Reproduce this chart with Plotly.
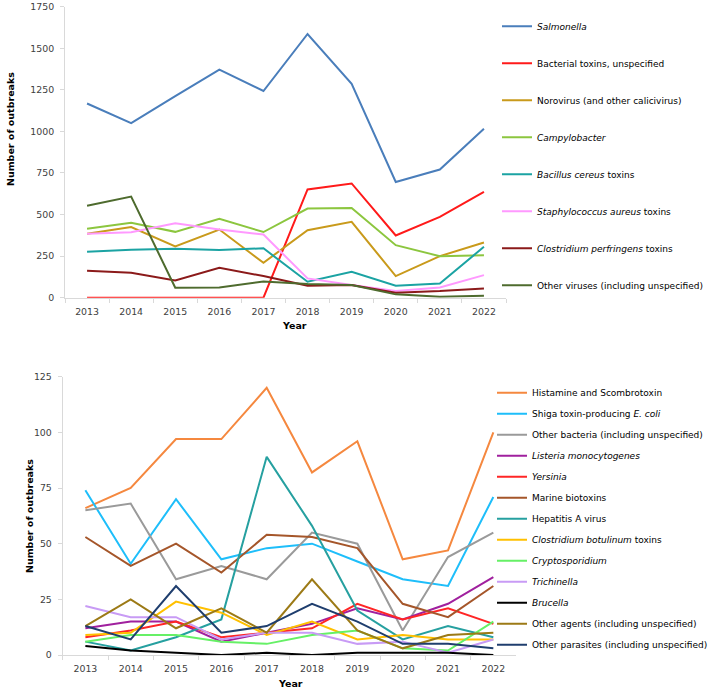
import plotly.graph_objects as go

years = ["2013", "2014", "2015", "2016", "2017", "2018", "2019", "2020", "2021", "2022"]

# ---- Top panel series ----
top_names = [
    "<i>Salmonella</i>",
    "Bacterial toxins, unspecified",
    "Norovirus (and other calicivirus)",
    "<i>Campylobacter</i>",
    "<i>Bacillus cereus</i> toxins",
    "<i>Staphylococcus aureus</i> toxins",
    "<i>Clostridium perfringens</i> toxins",
    "Other viruses (including unspecified)",
]
salmonella = [1168, 1050, 1212, 1372, 1243, 1586, 1286, 696, 771, 1016]
bacterial_toxins = [0, 0, 0, 3, 0, 651, 687, 374, 486, 636]
norovirus = [385, 425, 308, 410, 210, 406, 456, 130, 250, 332]
campylobacter = [414, 450, 396, 474, 395, 536, 540, 316, 250, 256]
bacillus = [277, 289, 294, 287, 297, 96, 156, 72, 86, 306]
staph = [385, 393, 447, 410, 380, 116, 76, 40, 62, 136]
cperfringens = [162, 150, 103, 180, 130, 72, 76, 30, 40, 56]
other_viruses = [553, 608, 60, 62, 97, 82, 76, 20, 6, 12]
top_colors = ["#4A7EBB", "#FF1A1A", "#C99A1B", "#8CC63F", "#1BA3A3",
              "#FF99FF", "#8B1A1A", "#4E6B2E"]

# ---- Bottom panel series ----
bot_names = [
    "Histamine and Scombrotoxin",
    "Shiga toxin-producing <i>E. coli</i>",
    "Other bacteria (including unspecified)",
    "<i>Listeria monocytogenes</i>",
    "<i>Yersinia</i>",
    "Marine biotoxins",
    "Hepatitis A virus",
    "<i>Clostridium botulinum</i> toxins",
    "<i>Cryptosporidium</i>",
    "<i>Trichinella</i>",
    "<i>Brucella</i>",
    "Other agents (including unspecified)",
    "Other parasites (including unspecified)",
]
histamine = [66, 75, 97, 97, 120, 82, 96, 43, 47, 100]
stec = [74, 41, 70, 43, 48, 50, 42, 34, 31, 71]
other_bacteria = [65, 68, 34, 40, 34, 55, 50, 11, 44, 55]
listeria = [12, 15, 15, 6, 10, 14, 21, 16, 23, 35]
yersinia = [8, 11, 15, 8, 10, 12, 23, 16, 21, 14]
marine = [53, 40, 50, 37, 54, 53, 48, 23, 17, 31]
hepatitis_a = [6, 2, 8, 16, 89, 58, 20, 7, 13, 8]
cbotulinum = [9, 10, 24, 19, 9, 15, 7, 9, 7, 7]
cryptosporidium = [6, 9, 9, 6, 5, 9, 11, 3, 2, 15]
trichinella = [22, 17, 17, 7, 10, 10, 5, 6, 1, 7]
brucella = [4, 2, 1, 0, 1, 0, 1, 1, 1, 0]
other_agents = [13, 25, 12, 21, 10, 34, 11, 3, 9, 10]
other_parasites = [13, 7, 31, 10, 13, 23, 15, 5, 5, 3]
bot_colors = ["#F5883F", "#1EBEFA", "#9A9A9A", "#A0209E", "#FF2626",
              "#A5562A", "#26A0A0", "#FFC000", "#66F066", "#C89BF5",
              "#000000", "#9C7A16", "#1F3E6E"]

top_series = [salmonella, bacterial_toxins, norovirus, campylobacter, bacillus,
              staph, cperfringens, other_viruses]
bot_series = [histamine, stec, other_bacteria, listeria, yersinia, marine,
              hepatitis_a, cbotulinum, cryptosporidium, trichinella, brucella,
              other_agents, other_parasites]

FONT = "DejaVu Sans, Verdana, sans-serif"
W, H = 709, 690
AX = "#D9D9D9"
TXT = "#404040"
FS = 9.4
LFS = 9.0

fig = go.Figure()
for i, (name, vals, col) in enumerate(zip(top_names, top_series, top_colors)):
    fig.add_trace(go.Scatter(x=years, y=vals, name=name, mode="lines",
                             line=dict(color=col, width=2),
                             xaxis="x", yaxis="y", legend="legend",
                             legendgroup="t%d" % i))
for i, (name, vals, col) in enumerate(zip(bot_names, bot_series, bot_colors)):
    fig.add_trace(go.Scatter(x=years, y=vals, name=name, mode="lines",
                             line=dict(color=col, width=2),
                             xaxis="x2", yaxis="y2", legend="legend2",
                             legendgroup="b%d" % i))

def xa(domain, anchor):
    return dict(domain=domain, anchor=anchor, type="category",
                range=[-0.5, len(years) - 0.5], automargin=False,
                tickson="boundaries", ticks="outside", ticklen=4,
                ticklabelstandoff=5,
                tickcolor=AX, showline=True, linecolor=AX, linewidth=1,
                showgrid=False, zeroline=False,
                tickfont=dict(family=FONT, size=FS, color=TXT))

def ya(domain, anchor, rng, dt):
    return dict(domain=domain, anchor=anchor, range=rng, dtick=dt,
                automargin=False, ticklabelstandoff=4,
                ticks="outside", ticklen=4, tickcolor=AX, showline=True,
                linecolor=AX, linewidth=1, showgrid=False, zeroline=False,
                tickfont=dict(family=FONT, size=FS, color=TXT))

fig.update_layout(
    width=W, height=H,
    margin=dict(l=0, r=0, t=0, b=0, autoexpand=False),
    paper_bgcolor="white", plot_bgcolor="white",
    xaxis=xa([65 / W, 506 / W], "y"),
    yaxis=ya([1 - 297.7 / H, 1 - 6.7 / H], "x", [0, 1750], 250),
    xaxis2=xa([62.7 / W, 516 / W], "y2"),
    yaxis2=ya([1 - 655 / H, 1 - 376.7 / H], "x2", [0, 125], 25),
    legend=dict(x=497 / W, y=1 - 11.7 / H, xanchor="left", yanchor="top",
                tracegroupgap=18, bgcolor="rgba(0,0,0,0)",
                font=dict(family=FONT, size=LFS, color="#000000")),
    legend2=dict(x=492 / W, y=1 - 378.3 / H, xanchor="left", yanchor="top",
                 tracegroupgap=2, bgcolor="rgba(0,0,0,0)",
                 font=dict(family=FONT, size=LFS, color="#000000")),
    showlegend=True,
)

tfont = dict(family=FONT, size=9.5, color="#000000")
annos = [
    dict(text="<b>Year</b>", x=294 / W, y=1 - 325 / H),
    dict(text="<b>Number of outbreaks</b>", x=10 / W, y=1 - 129 / H, textangle=-90),
    dict(text="<b>Year</b>", x=290 / W, y=1 - 683 / H),
    dict(text="<b>Number of outbreaks</b>", x=29 / W, y=1 - 516 / H, textangle=-90),
]
for a in annos:
    fig.add_annotation(xref="paper", yref="paper", showarrow=False,
                       xanchor="center", yanchor="middle", font=tfont, **a)

fig.write_html(
    "out.html",
    config={"displayModeBar": False},
    post_script="document.body.style.margin='0px';document.body.style.padding='0px';"
                "document.documentElement.style.overflow='hidden';",
)
